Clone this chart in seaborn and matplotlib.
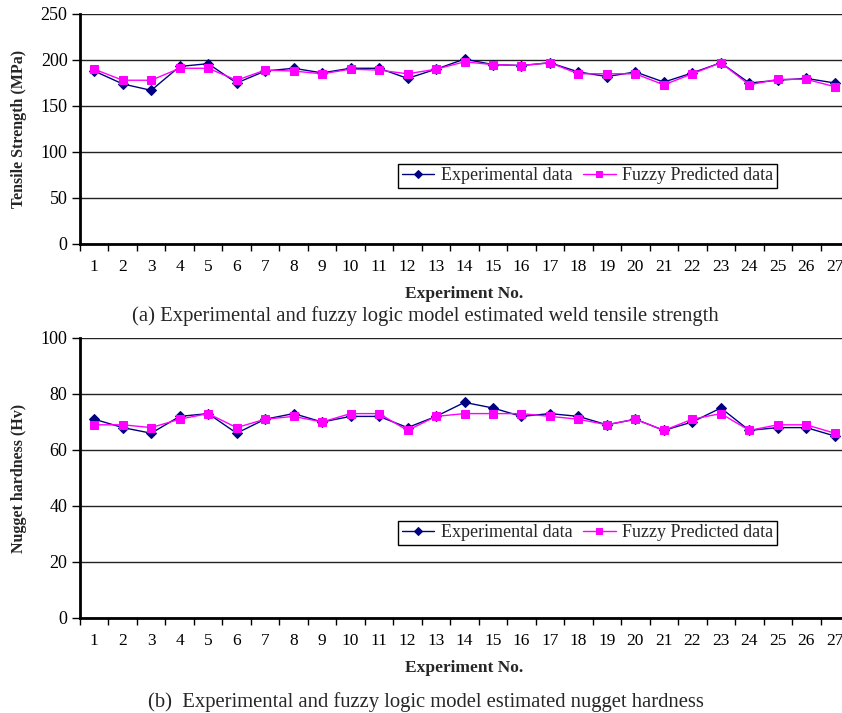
import numpy as np
import pandas as pd
import matplotlib
matplotlib.use("Agg")
import matplotlib.pyplot as plt
import seaborn as sns

experiment_no = list(range(1, 28))

tensile_experimental = [188, 174, 167, 193, 196, 175, 188, 191, 186, 191, 191, 180, 190,
                        201, 195, 194, 197, 187, 182, 187, 176, 186, 197, 175, 178, 180, 175]
tensile_fuzzy = [190, 178, 178, 191, 191, 178, 189, 188, 185, 190, 189, 185, 190,
                 198, 195, 194, 197, 185, 185, 185, 173, 185, 197, 173, 179, 179, 171]

hardness_experimental = [71, 68, 66, 72, 73, 66, 71, 73, 70, 72, 72, 68, 72,
                         77, 75, 72, 73, 72, 69, 71, 67, 70, 75, 67, 68, 68, 65]
hardness_fuzzy = [69, 69, 68, 71, 73, 68, 71, 72, 70, 73, 73, 67, 72,
                  73, 73, 73, 72, 71, 69, 71, 67, 71, 73, 67, 69, 69, 66]

series_names = ["Experimental data", "Fuzzy Predicted data"]
tensile_ticks = [0, 50, 100, 150, 200, 250]
hardness_ticks = [0, 20, 40, 60, 80, 100]

sns.set_theme(style="white")
plt.rcParams["font.family"] = ["Liberation Serif", "DejaVu Serif"]

NAVY = "#000080"
MAGENTA = "#FF00FF"

fig = plt.figure(figsize=(8.42, 7.13), dpi=100)
W, H = 842, 713


def px_axes(left, top, right, bottom):
    return fig.add_axes([left / W, 1 - bottom / H, (right - left) / W, (bottom - top) / H])


ax_top = px_axes(80, 14, 849, 244)
ax_bot = px_axes(80, 338, 849, 618)


def draw_panel(ax, exp_vals, fuzzy_vals, yticks, ylabel, legend_y):
    df = pd.DataFrame({"Experiment No.": experiment_no,
                       series_names[0]: exp_vals,
                       series_names[1]: fuzzy_vals})
    sns.lineplot(data=df, x="Experiment No.", y=series_names[0], ax=ax,
                 color=NAVY, marker="D", markersize=5, markeredgecolor=NAVY,
                 linewidth=1.0, label=series_names[0], zorder=3)
    sns.lineplot(data=df, x="Experiment No.", y=series_names[1], ax=ax,
                 color=MAGENTA, marker="s", markersize=6, markeredgecolor=MAGENTA,
                 linewidth=1.0, label=series_names[1], zorder=4)

    ax.set_xlim(0.5, 27.5)
    ax.set_ylim(yticks[0], yticks[-1])
    ax.set_yticks(yticks)
    ax.set_yticklabels([str(t) for t in yticks], fontsize=13)

    # category boundaries carry the tick marks, labels sit in the middle
    ax.set_xticks(np.arange(0.5, 28.0, 1.0))
    ax.set_xticklabels([])
    ax.set_xticks(experiment_no, minor=True)
    ax.set_xticklabels([str(n) for n in experiment_no], minor=True, fontsize=12.5)
    ax.tick_params(axis="x", which="major", direction="out", length=5, width=1,
                   color="black", bottom=True)
    ax.tick_params(axis="x", which="minor", length=0, pad=11, labelcolor="black")
    ax.tick_params(axis="y", direction="out", length=6, width=1, color="black",
                   left=True, pad=3, labelcolor="black")

    ax.yaxis.grid(True, color="#222222", linewidth=1.0)
    ax.xaxis.grid(False)
    ax.set_axisbelow(True)
    for side in ("top", "right"):
        ax.spines[side].set_visible(False)
    for side in ("left", "bottom"):
        ax.spines[side].set_color("black")
        ax.spines[side].set_linewidth(2.0)
    ax.set_facecolor("white")

    ax.set_ylabel(ylabel, fontsize=11.5, fontweight="bold", labelpad=10)
    ax.set_xlabel("Experiment No.", fontsize=12.5, fontweight="bold", labelpad=8)

    leg = ax.legend(loc="center", bbox_to_anchor=(0.660, legend_y), ncol=2,
                    fontsize=13, frameon=True, fancybox=False, shadow=False,
                    borderpad=0.2, handlelength=1.8, columnspacing=0.6,
                    handletextpad=0.35, borderaxespad=0, markerscale=0.8)
    leg.get_frame().set_edgecolor("black")
    leg.get_frame().set_linewidth(1.0)
    leg.get_frame().set_facecolor("white")
    leg.get_frame().set_alpha(1.0)


draw_panel(ax_top, tensile_experimental, tensile_fuzzy, tensile_ticks,
           "Tensile Strength (MPa)", 0.296)
draw_panel(ax_bot, hardness_experimental, hardness_fuzzy, hardness_ticks,
           "Nugget hardness (Hv)", 0.304)

fig.text(132 / W, 1 - 316 / H,
         "(a) Experimental and fuzzy logic model estimated weld tensile strength",
         fontsize=14.9, ha="left", va="center")
fig.text(148 / W, 1 - 702 / H,
         "(b)  Experimental and fuzzy logic model estimated nugget hardness",
         fontsize=14.9, ha="left", va="center")

fig.savefig("out.png", dpi=100, facecolor="white")
